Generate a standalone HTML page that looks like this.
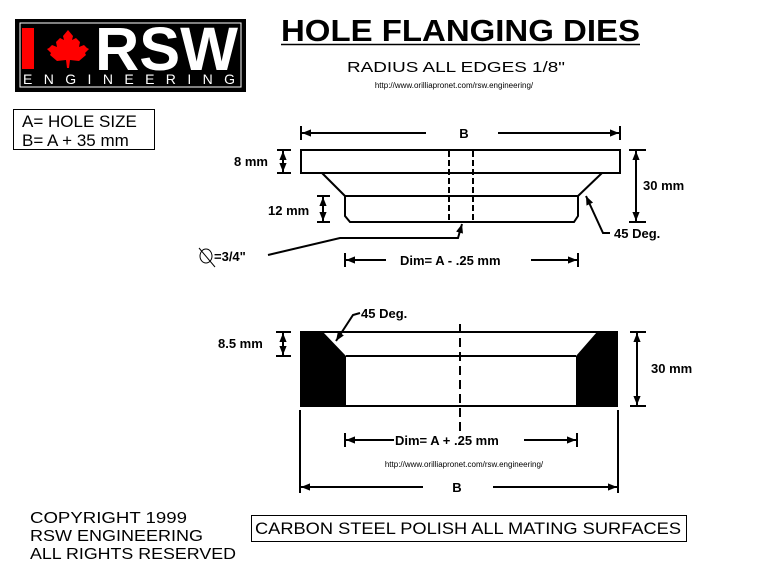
<!DOCTYPE html>
<html><head><meta charset="utf-8"><style>
html,body{margin:0;padding:0;background:#fff;}
svg{display:block;}
text{font-family:"Liberation Sans",sans-serif;}
</style></head><body>
<svg width="767" height="588" viewBox="0 0 767 588" xmlns="http://www.w3.org/2000/svg">
<defs>
<marker id="a" viewBox="0 0 10 10" refX="10" refY="5" markerWidth="9" markerHeight="9" orient="auto-start-reverse" markerUnits="userSpaceOnUse"><path d="M0,1 L10,5 L0,9 z" fill="#000"/></marker>
</defs>
<rect x="15" y="19" width="231" height="73" fill="#000"/>
<rect x="20" y="23" width="221" height="64" fill="none" stroke="#fff" stroke-width="1"/>
<rect x="22" y="28" width="12" height="41" fill="#f00"/>
<polygon fill="#f00" points="68,30 73,36 72,40 76,38 80,42 79,47 84,45 87,48 89,49 85,53 86,55 79,61 70,60 69,68 67,68 66,60 57,61 50,55 51,53 47,49 49,48 52,45 57,47 56,42 60,38 64,40 63,36"/>
<text x="95" y="70" font-size="61" font-weight="bold" fill="#fff" textLength="143" lengthAdjust="spacingAndGlyphs">RSW</text>
<text x="23" y="84" font-size="14" fill="#fff" textLength="212" lengthAdjust="spacing">ENGINEERING</text>
<text x="281" y="41" font-size="31" font-weight="bold" textLength="359" lengthAdjust="spacingAndGlyphs">HOLE FLANGING DIES</text>
<line x1="281" y1="44.5" x2="640" y2="44.5" stroke="#000" stroke-width="1.5"/>
<text x="456" y="72" font-size="15" text-anchor="middle" textLength="218" lengthAdjust="spacingAndGlyphs">RADIUS ALL EDGES 1/8"</text>
<text x="454" y="88" font-size="8" text-anchor="middle">http://www.orilliapronet.com/rsw.engineering/</text>
<rect x="13.5" y="109.5" width="141" height="40" fill="none" stroke="#000"/>
<text x="22" y="127" font-size="17">A= HOLE SIZE</text>
<text x="22" y="146" font-size="17">B= A + 35 mm</text>
<g stroke="#000" stroke-width="2" fill="none">
<line x1="301" y1="126" x2="301" y2="140"/><line x1="620" y1="126" x2="620" y2="140"/>
<line x1="302" y1="133" x2="426" y2="133" marker-start="url(#a)"/>
<line x1="498" y1="133" x2="619" y2="133" marker-end="url(#a)"/>
<rect x="301" y="150" width="319" height="23"/>
<line x1="322" y1="173" x2="345" y2="196"/><line x1="602" y1="173" x2="578" y2="196"/>
<path d="M345,196 L578,196 L578,216 L574,222 L350,222 L345,216 Z"/>
<line x1="449" y1="151" x2="449" y2="222" stroke-dasharray="6,3"/>
<line x1="473" y1="151" x2="473" y2="222" stroke-dasharray="6,3"/>
<line x1="277" y1="150" x2="291" y2="150"/><line x1="277" y1="173" x2="291" y2="173"/>
<line x1="283" y1="151" x2="283" y2="172" marker-start="url(#a)" marker-end="url(#a)"/>
<line x1="317" y1="196" x2="330" y2="196"/><line x1="317" y1="222" x2="330" y2="222"/>
<line x1="323" y1="197" x2="323" y2="221" marker-start="url(#a)" marker-end="url(#a)"/>
<line x1="629" y1="150" x2="646" y2="150"/><line x1="629" y1="222" x2="646" y2="222"/>
<line x1="636" y1="151" x2="636" y2="221" marker-start="url(#a)" marker-end="url(#a)"/>
<polyline points="610,233 603,233 586,196" marker-end="url(#a)"/>
<polyline points="268,255 340,238 458,238 462,224" marker-end="url(#a)"/>
<line x1="345" y1="253" x2="345" y2="267"/><line x1="578" y1="253" x2="578" y2="267"/>
<line x1="346" y1="260" x2="386" y2="260" marker-start="url(#a)"/>
<line x1="531" y1="260" x2="577" y2="260" marker-end="url(#a)"/>
<line x1="300" y1="332" x2="618" y2="332"/>
<line x1="346" y1="356" x2="576" y2="356"/>
<line x1="300" y1="406" x2="618" y2="406"/>
<line x1="460" y1="324" x2="460" y2="432" stroke-dasharray="9,5"/>
<line x1="276" y1="332" x2="291" y2="332"/><line x1="276" y1="356" x2="291" y2="356"/>
<line x1="283" y1="333" x2="283" y2="355" marker-start="url(#a)" marker-end="url(#a)"/>
<line x1="630" y1="332" x2="646" y2="332"/><line x1="630" y1="406" x2="646" y2="406"/>
<line x1="637" y1="333" x2="637" y2="405" marker-start="url(#a)" marker-end="url(#a)"/>
<polyline points="360,313 353,315 336,341" marker-end="url(#a)"/>
<line x1="300" y1="410" x2="300" y2="493"/><line x1="618" y1="410" x2="618" y2="493"/>
<line x1="345" y1="433" x2="345" y2="447"/><line x1="577" y1="433" x2="577" y2="447"/>
<line x1="346" y1="440" x2="394" y2="440" marker-start="url(#a)"/>
<line x1="524" y1="440" x2="576" y2="440" marker-end="url(#a)"/>
<line x1="301" y1="487" x2="423" y2="487" marker-start="url(#a)"/>
<line x1="493" y1="487" x2="617" y2="487" marker-end="url(#a)"/>
</g>
<polygon points="300,332 323,332 346,356 346,406 300,406" fill="#000"/>
<polygon points="618,332 597,332 576,356 576,406 618,406" fill="#000"/>
<g font-size="13" font-weight="bold">
<text x="464" y="138" text-anchor="middle">B</text>
<text x="234" y="166">8 mm</text>
<text x="268" y="215">12 mm</text>
<text x="643" y="190">30 mm</text>
<text x="614" y="238">45 Deg.</text>
<text x="214" y="261">=3/4"</text>
<text x="400" y="265">Dim= A - .25 mm</text>
<text x="218" y="348">8.5 mm</text>
<text x="651" y="373">30 mm</text>
<text x="361" y="318">45 Deg.</text>
<text x="395" y="445">Dim= A + .25 mm</text>
<text x="457" y="492" text-anchor="middle">B</text>
</g>
<g stroke="#000" stroke-width="1" fill="none">
<ellipse cx="206" cy="256" rx="6" ry="7"/><line x1="199" y1="248" x2="215" y2="267"/>
</g>
<text x="464" y="467" font-size="8" text-anchor="middle">http://www.orilliapronet.com/rsw.engineering/</text>
<g font-size="16">
<text x="30" y="523" textLength="157" lengthAdjust="spacingAndGlyphs">COPYRIGHT 1999</text>
<text x="30" y="541" textLength="173" lengthAdjust="spacingAndGlyphs">RSW ENGINEERING</text>
<text x="30" y="559" textLength="206" lengthAdjust="spacingAndGlyphs">ALL RIGHTS RESERVED</text>
</g>
<rect x="251.5" y="515.5" width="435" height="26" fill="none" stroke="#000"/>
<text x="255" y="534" font-size="17" textLength="426" lengthAdjust="spacingAndGlyphs">CARBON STEEL  POLISH ALL MATING SURFACES</text>
</svg>
</body></html>
